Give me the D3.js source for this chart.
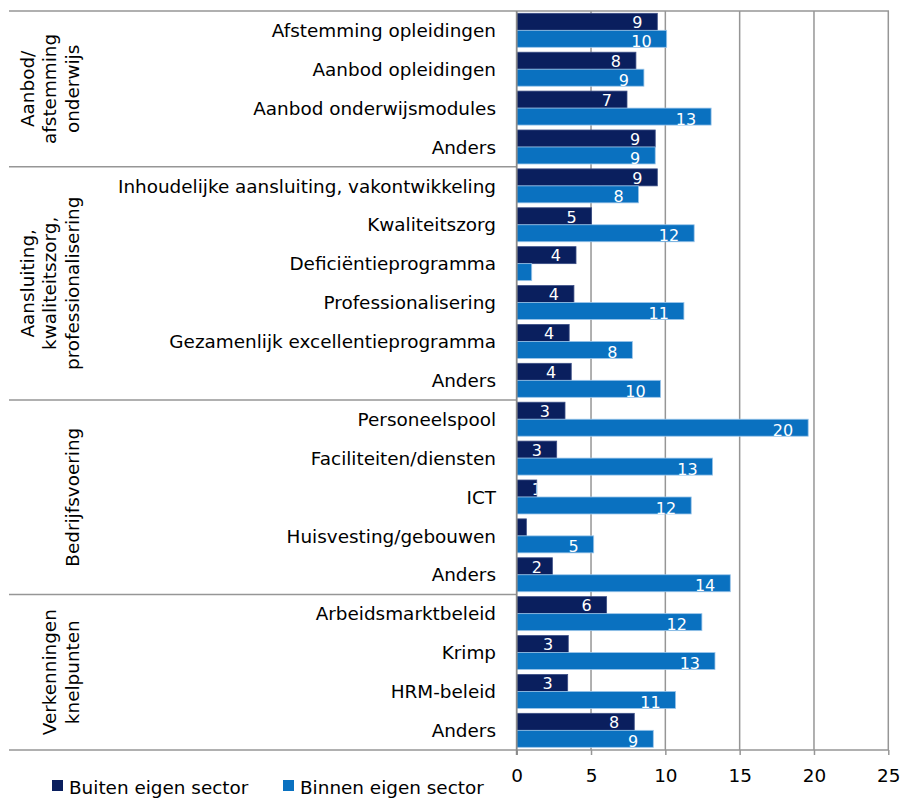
<!DOCTYPE html>
<html>
<head>
<meta charset="utf-8">
<script src="https://cdn.jsdelivr.net/npm/d3@7"></script>
<style>
  html, body { margin: 0; padding: 0; background: #ffffff; }
  svg { display: block; }
  text { font-family: "DejaVu Sans", Verdana, sans-serif; }
</style>
</head>
<body>
<div id="chart"></div>
<script>
// Samenwerkingsonderwerpen per thema: buiten en binnen de eigen sector
const categories = [
  "Afstemming opleidingen", "Aanbod opleidingen", "Aanbod onderwijsmodules", "Anders",
  "Inhoudelijke aansluiting, vakontwikkeling", "Kwaliteitszorg", "Deficiëntieprogramma",
  "Professionalisering", "Gezamenlijk excellentieprogramma", "Anders",
  "Personeelspool", "Faciliteiten/diensten", "ICT", "Huisvesting/gebouwen", "Anders",
  "Arbeidsmarktbeleid", "Krimp", "HRM-beleid", "Anders"
];
const groupNames = [
  ["Aanbod/", "afstemming", "onderwijs"],
  ["Aansluiting,", "kwaliteitszorg,", "professionalisering"],
  ["Bedrijfsvoering"],
  ["Verkenningen", "knelpunten"]
];
const groupSizes = [4, 6, 5, 4];
const seriesNames = ["Buiten eigen sector", "Binnen eigen sector"];
const buiten = [9.46, 8.02, 7.42, 9.32, 9.46, 5.04, 3.99, 3.85, 3.53, 3.67, 3.25, 2.69, 1.35, 0.65, 2.40, 6.05, 3.47, 3.43, 7.91];
const binnen = [10.09, 8.56, 13.08, 9.32, 8.20, 11.94, 1.01, 11.25, 7.78, 9.68, 19.61, 13.18, 11.74, 5.18, 14.37, 12.46, 13.34, 10.69, 9.19];
const xTicks = [0, 5, 10, 15, 20, 25];

const colors = ["#0a1f5e", "#0a71c0"];
const W = 903, H = 798;
const fontSize = 18.4;
const valueFontSize = 16;
const gridColor = "#969696";

const svg = d3.select("#chart").append("svg")
  .attr("width", W).attr("height", H);

const x = d3.scaleLinear().domain([0, 25]).range([516.7, 888.3]);
const y = d3.scaleBand().domain(d3.range(categories.length)).range([11.1, 750]).padding(0);
const step = y.step();
const barOffset = step * 0.057;
const barH = step * 0.437;

const defs = svg.append("defs");

// vertical gridlines (incl. right border at 25)
svg.append("g").selectAll("line").data(xTicks.filter(d => d > 0)).join("line")
  .attr("x1", d => x(d)).attr("x2", d => x(d))
  .attr("y1", 11).attr("y2", 750)
  .attr("stroke", gridColor).attr("stroke-width", 1.5);

// x axis at the bottom
const xAxis = d3.axisBottom(x).tickValues(xTicks).tickSize(5).tickPadding(14).tickFormat(d3.format("d"));
const gx = svg.append("g").attr("transform", "translate(0,750)").call(xAxis);
gx.select(".domain").remove();
gx.selectAll(".tick line").attr("stroke", gridColor).attr("stroke-width", 1.5);
gx.selectAll(".tick text").attr("fill", "#000").attr("font-size", fontSize)
  .attr("font-family", "DejaVu Sans");

// horizontal border / group separator lines
const bounds = [0];
groupSizes.forEach((n, i) => bounds.push(bounds[i] + n));
const boundY = bounds.map(b => b < categories.length ? y(b) : y.range()[1]);
svg.append("g").selectAll("line").data(boundY).join("line")
  .attr("x1", 9)
  .attr("x2", (d, i) => (i === 0 || i === boundY.length - 1) ? 889 : x(0))
  .attr("y1", d => d).attr("y2", d => d)
  .attr("stroke", gridColor).attr("stroke-width", 1.5);

// bars with value labels clipped to their own bar
const rows = categories.map((c, i) => ({ i, name: c, vals: [buiten[i], binnen[i]] }));
const barData = [];
rows.forEach(r => r.vals.forEach((v, s) => barData.push({ i: r.i, s, v })));

const barG = svg.append("g");
barData.forEach((d, k) => {
  const by = y(d.i) + barOffset + d.s * barH;
  const bw = x(d.v) - x(0);
  defs.append("clipPath").attr("id", "clip" + k)
    .append("rect").attr("x", x(0)).attr("y", by).attr("width", bw).attr("height", barH);
  barG.append("rect")
    .attr("x", x(0)).attr("y", by).attr("width", bw).attr("height", barH)
    .attr("fill", colors[d.s])
    .attr("stroke", d.s === 1 ? "#9cc6ea" : "#3c4f86").attr("stroke-width", 0.8);
  const t = barG.append("text")
    .attr("clip-path", "url(#clip" + k + ")")
    .attr("y", by + barH - (d.s === 0 ? 2.2 : 0.4))
    .attr("fill", "#ffffff").attr("font-size", valueFontSize)
    .attr("text-anchor", "end")
    .text(d3.format(".0f")(d.v));
  const tw = t.node().getComputedTextLength();
  t.attr("x", Math.max(x(d.v) - 15, x(0) + 15 + tw));
});

// left axis line
svg.append("line")
  .attr("x1", x(0)).attr("x2", x(0)).attr("y1", 11).attr("y2", 755)
  .attr("stroke", "#8a8a8a").attr("stroke-width", 1.8);

// category labels
svg.append("g").selectAll("text").data(categories).join("text")
  .attr("x", 496)
  .attr("y", (d, i) => y(i) + step / 2)
  .attr("dy", "0.35em")
  .attr("text-anchor", "end")
  .attr("font-size", fontSize)
  .attr("fill", "#000")
  .text(d => d);

// group labels, rotated
const pitch = 22.5;
groupNames.forEach((lines, g) => {
  const cy = (boundY[g] + boundY[g + 1]) / 2;
  const n = lines.length;
  lines.forEach((ln, j) => {
    const bx = 78.5 - (n - 1 - j) * pitch;
    svg.append("text")
      .attr("transform", `translate(${bx},${cy}) rotate(-90)`)
      .attr("text-anchor", "middle")
      .attr("font-size", fontSize)
      .attr("fill", "#000")
      .text(ln);
  });
});

// legend
const legendX = [52, 283];
const lg = svg.append("g");
seriesNames.forEach((name, i) => {
  lg.append("rect").attr("x", legendX[i]).attr("y", 780).attr("width", 11).attr("height", 11)
    .attr("fill", colors[i]);
  lg.append("text").attr("x", legendX[i] + 17).attr("y", 794)
    .attr("font-size", fontSize).attr("fill", "#000").text(name);
});
</script>
</body>
</html>
